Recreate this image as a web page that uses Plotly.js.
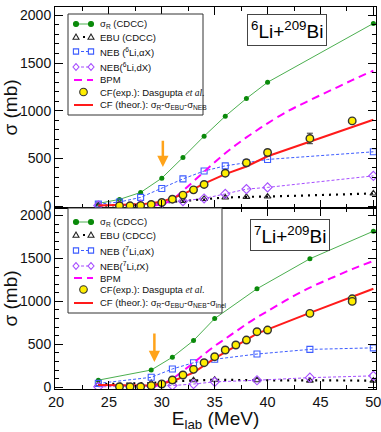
<!DOCTYPE html>
<html>
<head>
<meta charset="utf-8">
<script src="https://cdn.plot.ly/plotly-3.0.1.min.js"></script>
<style>
  html, body { margin: 0; padding: 0; background: #fff; }
  #chart { width: 381px; height: 432px; }
</style>
</head>
<body>
<div id="chart"></div>
<script>
// ---- 6Li + 209Bi (upper panel) ----
const eCalc6 = [24, 26, 28, 30, 32, 34, 36, 38, 40, 50];
const sigR6 = [28, 70, 143, 293, 510, 733, 942, 1128, 1298, 1915];
const ebu6 = [3, 8, 18, 35, 55, 75, 90, 97, 100, 132];
const nebA6 = [21, 43, 91, 185, 285, 368, 422, 455, 489, 569];
const nebD6 = [5, 8, 15, 30, 52, 80, 128, 178, 196, 317];
const cfTh6 = [5, 10, 18, 45, 122, 236, 335, 415, 522, 905];
const eBpm6 = [29, 30, 31, 32, 33, 34, 35, 36, 37, 38, 39, 40, 42, 44, 46, 48, 50];
const bpm6 = [5, 20, 70, 160, 260, 360, 460, 555, 640, 720, 795, 868, 1000, 1110, 1215, 1320, 1420];
const eExp6 = [26, 27, 28, 29, 30, 31, 32, 33, 34, 36, 38, 40, 44, 48];
const cfExp6 = [3, 3, 5, 17, 38, 72, 115, 170, 227, 345, 454, 562, 709, 893];
const cfErr6 = [5, 5, 5, 5, 8, 8, 10, 10, 12, 15, 18, 25, 55, 15];

// ---- 7Li + 209Bi (lower panel) ----
const eCalc7 = [24, 29, 31, 33, 35, 39, 44, 50];
const sigR7 = [83, 201, 350, 544, 800, 1147, 1496, 1817];
const ebu7 = [35, 50, 70, 82, 88, 82, 78, 78];
const nebA7 = [45, 116, 213, 286, 326, 387, 441, 459];
const nebT7 = [5, 12, 20, 38, 63, 82, 112, 133];
const cfTh7 = [28, 20, 70, 170, 337, 625, 866, 1147];
const eBpm7 = [29, 30, 31, 32, 33, 34, 35, 36, 37, 38, 39, 40, 42, 44, 46, 48, 50];
const bpm7 = [5, 35, 100, 190, 285, 385, 480, 565, 650, 735, 815, 885, 1030, 1160, 1270, 1375, 1470];
const eExp7 = [26, 27, 28, 29, 30, 31, 32, 33, 34, 35, 36, 37, 38, 39, 40, 44, 48, 48];
const cfExp7 = [7, 7, 7, 19, 38, 85, 143, 209, 286, 356, 434, 492, 550, 647, 666, 860, 1030, 1000];

// barrier arrows
const arrowE = [30.1, 29.3];
const arrowTail = [700, 643];
const arrowHead = [410, 293];

const legend6 = [
  'σ<sub>R</sub> (CDCC)', 'EBU (CDCC)', 'NEB (<sup>6</sup>Li,αX)', 'NEB(<sup>6</sup>Li,dX)', 'BPM',
  'CF(exp.): Dasgupta <span style="font-family:Liberation Serif"><i>et al.</i></span>',
  'CF (theor.): σ<sub>R</sub>-σ<sub>EBU</sub>-σ<sub>NEB</sub>'
];
const legend7 = [
  'σ<sub>R</sub> (CDCC)', 'EBU (CDCC)', 'NEB (<sup>7</sup>Li,αX)', 'NEB(<sup>7</sup>Li,<i>t</i>X)', 'BPM',
  'CF(exp.): Dasgupta <span style="font-family:Liberation Serif"><i>et al.</i></span>',
  'CF (theor.): σ<sub>R</sub>-σ<sub>EBU</sub>-σ<sub>NEB</sub>-σ<sub>inel</sub>'
];

const FONT = 'Liberation Sans, Arial, sans-serif';
const C = {
  green: '#4caf50', greenDk: '#0a8a0a', blue: '#3d5cff', purple: '#a64dff',
  magenta: '#ff00ff', red: '#ff1a1a', yellow: '#ffee00', orange: '#ffa31a'
};
const DASH = { blue: '3px,2px', bpm: '8px,5px', ebu: '2px,5px' };

function panel(xa, ya, e, sR, ebu, nA, nB, cfT, eB, bpm, eX, cfX, err) {
  const t = [];
  t.push({ x: e, y: sR, xaxis: xa, yaxis: ya, mode: 'lines+markers', type: 'scatter',
    line: { color: C.green, width: 1 }, marker: { color: C.greenDk, size: 5 } });
  t.push({ x: e, y: ebu, xaxis: xa, yaxis: ya, mode: 'lines+markers', type: 'scatter',
    line: { color: '#000', width: 2.2, dash: DASH.ebu },
    marker: { symbol: 'triangle-up-open', color: '#222', size: 6, line: { width: 1.1 } } });
  t.push({ x: e, y: nA, xaxis: xa, yaxis: ya, mode: 'lines+markers', type: 'scatter',
    line: { color: C.blue, width: 1, dash: DASH.blue },
    marker: { symbol: 'square-open', color: C.blue, size: 6, line: { width: 1.1 } } });
  t.push({ x: e, y: nB, xaxis: xa, yaxis: ya, mode: 'lines+markers', type: 'scatter',
    line: { color: C.purple, width: 1, dash: DASH.blue },
    marker: { symbol: 'diamond-open', color: C.purple, size: 7, line: { width: 1.1 } } });
  t.push({ x: eB, y: bpm, xaxis: xa, yaxis: ya, mode: 'lines', type: 'scatter',
    line: { color: C.magenta, width: 2, dash: DASH.bpm, shape: 'spline' } });
  t.push({ x: e, y: cfT, xaxis: xa, yaxis: ya, mode: 'lines', type: 'scatter',
    line: { color: C.red, width: 2 } });
  const exp = { x: eX, y: cfX, xaxis: xa, yaxis: ya, mode: 'markers', type: 'scatter',
    marker: { color: C.yellow, size: 7.5, line: { color: '#333', width: 1.4 } } };
  if (err) exp.error_y = { type: 'data', array: err, color: '#333', thickness: 1, width: 3 };
  t.push(exp);
  return t;
}

const data = [].concat(
  panel('x2', 'y2', eCalc6, sigR6, ebu6, nebA6, nebD6, cfTh6, eBpm6, bpm6, eExp6, cfExp6, cfErr6),
  panel('x', 'y', eCalc7, sigR7, ebu7, nebA7, nebT7, cfTh7, eBpm7, bpm7, eExp7, cfExp7, null)
);

// pixel -> paper helpers (plot area: left 55, top 7, 321 x 382)
const L = 55, T = 7, W = 321, H = 382;
const px = p => (p - L) / W;
const py = p => (T + H - p) / H;

const shapes = [];
const annotations = [];

function glyph(type, x, y, color, fill) {
  const s = { type: 'path', xref: 'paper', yref: 'paper', xsizemode: 'pixel', ysizemode: 'pixel',
    xanchor: px(x), yanchor: py(y), layer: 'above',
    line: { color: color, width: 1.1 }, fillcolor: fill || 'rgba(0,0,0,0)' };
  if (type === 'circle') Object.assign(s, { type: 'circle', x0: -2.5, x1: 2.5, y0: -2.5, y1: 2.5 });
  if (type === 'bigcircle') Object.assign(s, { type: 'circle', x0: -3.8, x1: 3.8, y0: -3.8, y1: 3.8 });
  if (type === 'square') Object.assign(s, { type: 'rect', x0: -2.6, x1: 2.6, y0: -2.6, y1: 2.6 });
  if (type === 'triangle') s.path = 'M-3,-2.2L3,-2.2L0,3Z';
  if (type === 'diamond') s.path = 'M0,-3.4L3,0L0,3.4L-3,0Z';
  shapes.push(s);
}
function seg(x0, x1, y, color, width, dash) {
  shapes.push({ type: 'line', xref: 'paper', yref: 'paper', layer: 'above',
    x0: px(x0), x1: px(x1), y0: py(y), y1: py(y), line: { color: color, width: width, dash: dash } });
}

function legendBox(box, rows, labels) {
  shapes.push({ type: 'rect', xref: 'paper', yref: 'paper', layer: 'above',
    x0: px(box[0]), x1: px(box[1]), y0: py(box[2]), y1: py(box[3]),
    line: { color: '#333', width: 1 }, fillcolor: '#fff' });
  const a = 76, b = 91;
  seg(a, b, rows[0], C.green, 1, 'solid');
  glyph('circle', a, rows[0], C.greenDk, C.greenDk); glyph('circle', b, rows[0], C.greenDk, C.greenDk);
  seg(a, b, rows[1], '#000', 2.2, DASH.ebu);
  glyph('triangle', a, rows[1], '#222', '#fff'); glyph('triangle', b, rows[1], '#222', '#fff');
  seg(a, b, rows[2], C.blue, 1, DASH.blue);
  glyph('square', a, rows[2], C.blue, '#fff'); glyph('square', b, rows[2], C.blue, '#fff');
  seg(a, b, rows[3], C.purple, 1, DASH.blue);
  glyph('diamond', a, rows[3], C.purple, '#fff'); glyph('diamond', b, rows[3], C.purple, '#fff');
  seg(a - 2, b + 2, rows[4], C.magenta, 2, DASH.bpm);
  glyph('bigcircle', (a + b) / 2, rows[5], '#333', C.yellow);
  seg(a - 2, b + 2, rows[6], C.red, 2, 'solid');
  labels.forEach((txt, i) => annotations.push({
    xref: 'paper', yref: 'paper', x: px(98), y: py(rows[i]), xanchor: 'left', yanchor: 'middle',
    text: txt, showarrow: false, font: { family: FONT, size: 9.5, color: '#111' }
  }));
}

legendBox([68, 203, 14, 115], [24, 37, 51.5, 67, 80, 92, 105], legend6);
legendBox([68, 222, 208, 313], [222, 235, 250.5, 266, 278, 289.5, 303], legend7);

// reaction labels
[['<sup>6</sup>Li+<sup>209</sup>Bi', 286.5, 29.5], ['<sup>7</sup>Li+<sup>209</sup>Bi', 290, 234.5]]
  .forEach(r => annotations.push({
    xref: 'paper', yref: 'paper', x: px(r[1]), y: py(r[2]), xanchor: 'center', yanchor: 'middle',
    text: r[0], showarrow: false, font: { family: FONT, size: 19, color: '#000' },
    bordercolor: '#444', borderwidth: 1, borderpad: 3, bgcolor: '#fff'
  }));

// orange arrows marking the barrier
[['x2', 'y2'], ['x', 'y']].forEach((ax, i) => annotations.push({
  xref: ax[0], yref: ax[1], axref: ax[0], ayref: ax[1],
  x: arrowE[i], y: arrowHead[i], ax: arrowE[i], ay: arrowTail[i],
  showarrow: true, arrowhead: 2, arrowsize: 0.9, arrowwidth: 2.5, arrowcolor: C.orange, text: ''
}));

const yRange = [-20, 2087];
const xRange = [19.905, 50.25];
const split = 181 / 382;

const baseX = {
  range: xRange, tick0: 20, dtick: 5, ticks: 'inside', ticklen: 8, tickwidth: 1, tickcolor: '#000',
  minor: { dtick: 2.5, ticks: 'inside', ticklen: 4, tickcolor: '#000' },
  showline: true, linecolor: '#000', linewidth: 1, mirror: 'ticks',
  showgrid: false, zeroline: false, fixedrange: true, ticklabeloverflow: 'allow'
};
const baseY = {
  range: yRange, tick0: 0, dtick: 500, ticks: 'inside', ticklen: 8, tickwidth: 1, tickcolor: '#000',
  minor: { dtick: 100, ticks: 'inside', ticklen: 4, tickcolor: '#000' },
  showline: true, linecolor: '#000', linewidth: 1, mirror: 'ticks',
  showgrid: false, zeroline: false, fixedrange: true,
  tickfont: { family: FONT, size: 14, color: '#111' },
  title: { text: 'σ (mb)', font: { family: FONT, size: 19, color: '#111' }, standoff: 6 }
};

const layout = {
  width: 381, height: 432,
  margin: { l: L, r: 381 - L - W, t: T, b: 432 - T - H },
  paper_bgcolor: '#fff', plot_bgcolor: '#fff',
  showlegend: false,
  font: { family: FONT },
  xaxis: Object.assign({}, baseX, { anchor: 'y',
    tickfont: { family: FONT, size: 14.5, color: '#111' },
    title: { text: 'E<sub>lab</sub> (MeV)', font: { family: FONT, size: 19, color: '#111' }, standoff: 6 } }),
  yaxis: Object.assign({}, baseY, { domain: [0, split], anchor: 'x' }),
  xaxis2: Object.assign({}, baseX, { anchor: 'y2', matches: 'x', showticklabels: false }),
  yaxis2: Object.assign({}, baseY, { domain: [split, 1], anchor: 'x2' }),
  shapes: shapes,
  annotations: annotations
};

Plotly.newPlot('chart', data, layout, { staticPlot: true, displayModeBar: false });
</script>
</body>
</html>
